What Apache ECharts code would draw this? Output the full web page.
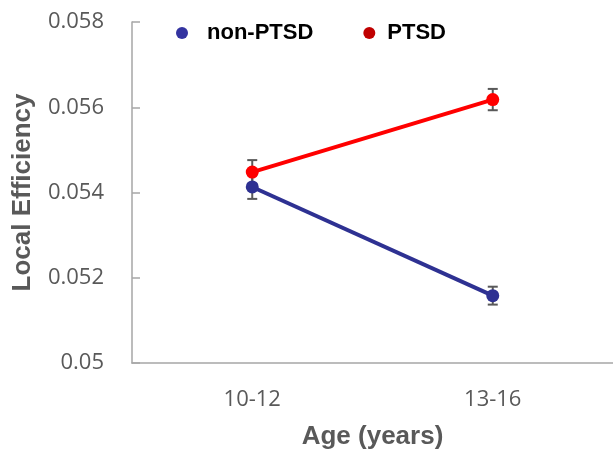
<!DOCTYPE html>
<html>
<head>
<meta charset="utf-8">
<script src="https://cdn.jsdelivr.net/npm/echarts@6/dist/echarts.min.js"></script>
<style>
html,body{margin:0;padding:0;background:#fff;}
#c{width:613px;height:455px;}
</style>
</head>
<body>
<div id="c"></div>
<script>
const categories = ['10-12', '13-16'];
const nonPTSD = [0.05413, 0.05158];
const PTSD = [0.05448, 0.05618];
const nonPTSDErr = [0.00028, 0.00021];
const PTSDErr = [0.00028, 0.00025];
const yTicks = [0.05, 0.052, 0.054, 0.056, 0.058];

function errSeries(name, vals, errs) {
  return {
    type: 'custom',
    name: name + ' err',
    z: 1,
    silent: true,
    data: vals.map((v, i) => [i, v - errs[i], v + errs[i]]),
    renderItem: function (params, api) {
      const lo = api.coord([api.value(0), api.value(1)]);
      const hi = api.coord([api.value(0), api.value(2)]);
      const hw = 5;
      const style = { stroke: '#595959', lineWidth: 2, fill: null };
      return {
        type: 'group',
        children: [
          { type: 'line', shape: { x1: lo[0], y1: lo[1], x2: hi[0], y2: hi[1] }, style: style },
          { type: 'line', shape: { x1: lo[0] - hw, y1: lo[1], x2: lo[0] + hw, y2: lo[1] }, style: style },
          { type: 'line', shape: { x1: hi[0] - hw, y1: hi[1], x2: hi[0] + hw, y2: hi[1] }, style: style }
        ]
      };
    }
  };
}

const chart = echarts.init(document.getElementById('c'), null, { renderer: 'canvas' });
chart.setOption({
  animation: false,
  backgroundColor: '#ffffff',
  grid: { left: 132, right: 0, top: 22, bottom: 88, containLabel: false },
  legend: {
    left: 171,
    top: 17,
    icon: 'circle',
    itemWidth: 12,
    itemHeight: 12,
    itemGap: 50,
    textStyle: { fontFamily: 'Liberation Sans', fontWeight: 'bold', fontSize: 22, color: '#000', padding: [0, 0, 0, 14] },
    data: [
      { name: 'non-PTSD', itemStyle: { color: '#3333a0' } },
      { name: 'PTSD', itemStyle: { color: '#c00000' },
        textStyle: { fontFamily: 'Liberation Sans', fontWeight: 'bold', fontSize: 22, color: '#000', padding: [0, 0, 0, 7] } }
    ]
  },
  xAxis: {
    type: 'category',
    data: categories,
    boundaryGap: true,
    name: 'Age (years)',
    nameLocation: 'middle',
    nameGap: 61,
    nameTextStyle: { fontFamily: 'Liberation Sans', fontWeight: 'bold', fontSize: 26, color: '#595959' },
    axisLine: { lineStyle: { color: '#a6a6a6', width: 1.5 } },
    axisTick: { inside: true, length: 6, lineStyle: { color: '#a6a6a6', width: 1.5 } },
    axisLabel: { margin: 26, fontFamily: 'Open Sans', fontSize: 22, color: '#595959' },
    splitLine: { show: false }
  },
  yAxis: {
    type: 'value',
    min: yTicks[0],
    max: yTicks[yTicks.length - 1],
    interval: 0.002,
    name: 'Local Efficiency',
    nameLocation: 'middle',
    nameGap: 96,
    nameTextStyle: { fontFamily: 'Liberation Sans', fontWeight: 'bold', fontSize: 26, color: '#595959' },
    axisLine: { show: true, lineStyle: { color: '#a6a6a6', width: 1.5 } },
    axisTick: { show: true, inside: true, length: 8, lineStyle: { color: '#a6a6a6', width: 1.5 } },
    axisLabel: { margin: 28, fontFamily: 'Open Sans', fontSize: 22, color: '#595959',
      formatter: v => String(Number(v.toFixed(4))) },
    splitLine: { show: false }
  },
  series: [
    errSeries('non-PTSD', nonPTSD, nonPTSDErr),
    errSeries('PTSD', PTSD, PTSDErr),
    {
      name: 'non-PTSD', type: 'line', data: nonPTSD, z: 3,
      symbol: 'circle', symbolSize: 13,
      lineStyle: { color: '#2e3192', width: 4 },
      itemStyle: { color: '#2e3192' }
    },
    {
      name: 'PTSD', type: 'line', data: PTSD, z: 3,
      symbol: 'circle', symbolSize: 13,
      lineStyle: { color: '#ff0000', width: 4 },
      itemStyle: { color: '#ff0000' }
    }
  ]
});
</script>
</body>
</html>
